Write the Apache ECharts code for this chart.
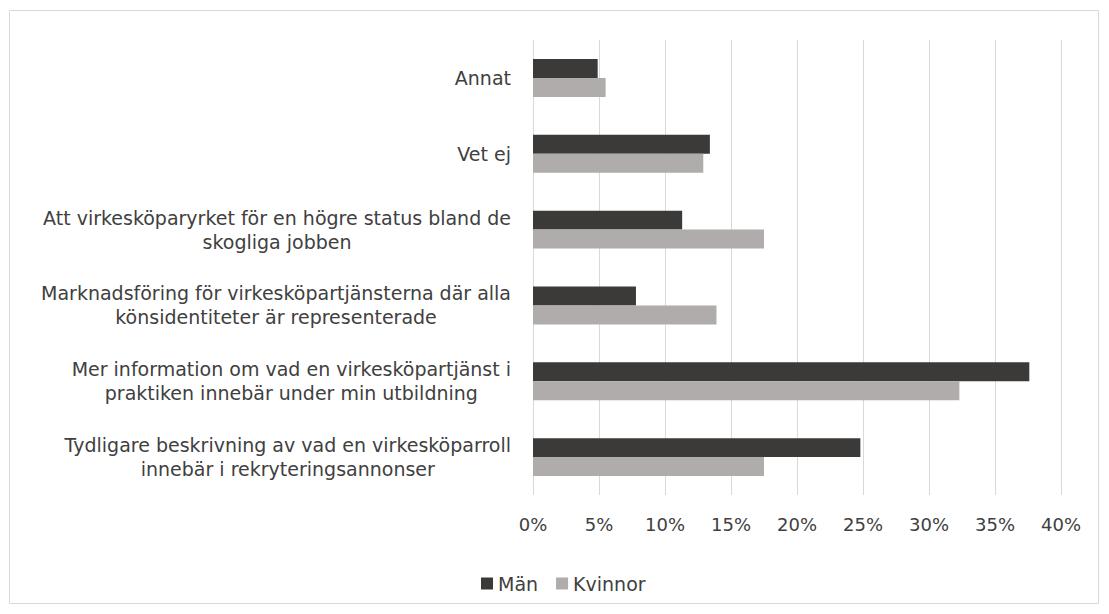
<!DOCTYPE html>
<html>
<head>
<meta charset="utf-8">
<script src="https://cdn.jsdelivr.net/npm/echarts@6/dist/echarts.min.js"></script>
<style>
  html, body { margin: 0; padding: 0; background: #fff; }
  #chart { width: 1109px; height: 614px; }
</style>
</head>
<body>
<div id="chart"></div>
<script>
    // categories listed top to bottom
    const categories = [
        'Annat',
        'Vet ej',
        'Att virkesköparyrket för en högre status bland de\nskogliga jobben',
        'Marknadsföring för virkesköpartjänsterna där alla\nkönsidentiteter är representerade',
        'Mer information om vad en virkesköpartjänst i\npraktiken innebär under min utbildning',
        'Tydligare beskrivning av vad en virkesköparroll\ninnebär i rekryteringsannonser'
    ];
    const man = [4.9, 13.4, 11.3, 7.8, 37.6, 24.8];
    const kvinnor = [5.5, 12.9, 17.5, 13.9, 32.3, 17.5];
    const seriesNames = ['Män', 'Kvinnor'];

    const chart = echarts.init(document.getElementById('chart'), null, {renderer: 'svg'});

    const font = 'DejaVu Sans';
    const textColor = '#404040';

    chart.setOption({
        animation: false,
        graphic: [{
            type: 'rect',
            shape: {x: 9.5, y: 10.5, width: 1089, height: 593},
            style: {fill: 'none', stroke: '#d9d9d9', lineWidth: 1},
            silent: true
        }],
        grid: {left: 533, right: 48, top: 40, bottom: 119},
        legend: {
            data: seriesNames,
            left: 476,
            top: 569,
            itemWidth: 12,
            itemHeight: 12,
            itemGap: 18,
            icon: 'rect',
            textStyle: {fontFamily: font, fontSize: 19, color: textColor}
        },
        xAxis: {
            type: 'value',
            min: 0,
            max: 40,
            interval: 5,
            axisLine: {show: false},
            axisTick: {show: false},
            splitLine: {lineStyle: {color: '#d9d9d9', width: 1}},
            axisLabel: {
                formatter: '{value}%',
                fontFamily: font,
                fontSize: 18,
                color: textColor,
                margin: 20
            }
        },
        yAxis: {
            type: 'category',
            data: categories,
            inverse: true,
            axisLine: {show: false},
            axisTick: {show: false},
            axisLabel: {
                margin: 22,
                fontFamily: font,
                fontSize: 19,
                color: textColor,
                lineHeight: 24,
                formatter: function (v) {
                    return v.split('\n').map(l => '{c|' + l + '}').join('\n');
                },
                rich: {
                    c: {align: 'center', fontFamily: font, fontSize: 19, color: textColor, lineHeight: 24}
                }
            }
        },
        series: [
            {
                name: seriesNames[0],
                type: 'bar',
                data: man,
                barGap: '0%',
                barCategoryGap: '50%',
                itemStyle: {color: '#3b3a39'}
            },
            {
                name: seriesNames[1],
                type: 'bar',
                data: kvinnor,
                barGap: '0%',
                barCategoryGap: '50%',
                itemStyle: {color: '#afacab'}
            }
        ]
    });
</script>
</body>
</html>
